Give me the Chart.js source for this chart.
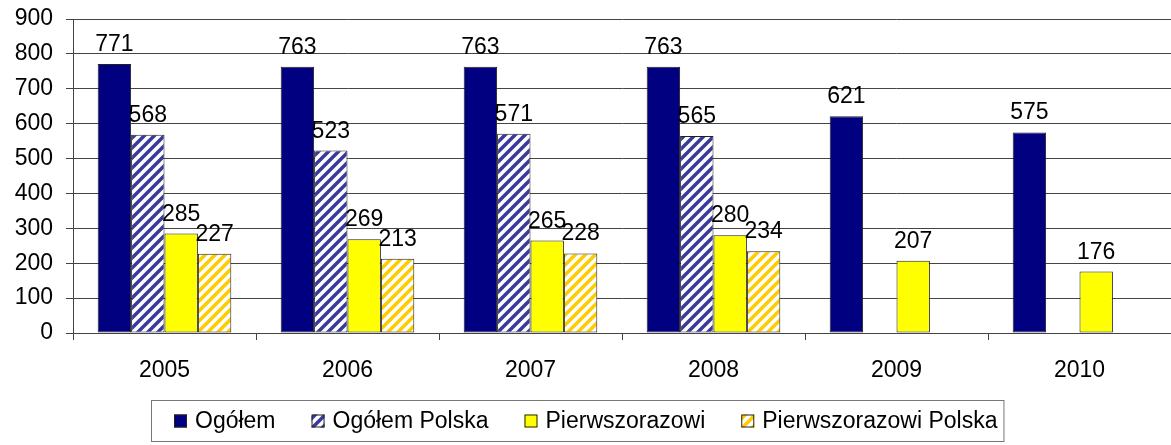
<!DOCTYPE html>
<html>
<head>
<meta charset="utf-8">
<script src="https://cdn.jsdelivr.net/npm/chart.js@4"></script>
<style>
    body { margin: 0; background: #fff; }
    #wrap { width: 1171px; height: 445px; }
</style>
</head>
<body>
<div id="wrap"><canvas id="chart"></canvas></div>
<script>
const years = ["2005", "2006", "2007", "2008", "2009", "2010"];
const ogolem = [771, 763, 763, 763, 621, 575];
const ogolemPolska = [568, 523, 571, 565, null, null];
const pierwszorazowi = [285, 269, 265, 280, 207, 176];
const pierwszorazowiPolska = [227, 213, 228, 234, null, null];
const yTicks = [0, 100, 200, 300, 400, 500, 600, 700, 800, 900];

const FONT = "'Liberation Sans', Arial, sans-serif";

function hatch(color) {
    const c = document.createElement("canvas");
    c.width = 10;
    c.height = 10;
    const g = c.getContext("2d");
    g.fillStyle = "#fff";
    g.fillRect(0, 0, 10, 10);
    g.strokeStyle = color;
    g.lineWidth = 3.5;
    g.beginPath();
    g.moveTo(-5, 5); g.lineTo(5, -5);
    g.moveTo(0, 10); g.lineTo(10, 0);
    g.moveTo(5, 15); g.lineTo(15, 5);
    g.stroke();
    return g.createPattern(c, "repeat");
}

const ctx = document.getElementById("chart").getContext("2d");
const bluePattern = hatch("#3a3a9c");
const yellowPattern = hatch("#ffcc00");

// value labels above bars
const valueLabels = {
    id: "valueLabels",
    afterDatasetsDraw(chart) {
        const c = chart.ctx;
        c.save();
        c.font = "23px " + FONT;
        c.fillStyle = "#000";
        c.textAlign = "center";
        c.textBaseline = "alphabetic";
        chart.data.datasets.forEach((ds, i) => {
            chart.getDatasetMeta(i).data.forEach((bar, j) => {
                if (ds.data[j] == null) return;
                c.fillText(ds.data[j], bar.x, bar.y - 13);
            });
        });
        c.restore();
    }
};

// legend in a frame, drawn by hand so the gaps match
const boxLegend = {
    id: "boxLegend",
    afterDraw(chart) {
        const c = chart.ctx;
        const sets = chart.data.datasets;
        const gap = 36, box = 13, textOff = 21;
        c.save();
        c.font = "23px " + FONT;
        const widths = sets.map(ds => c.measureText(ds.label).width);
        let total = 0;
        widths.forEach((w, i) => { total += textOff + w + (i < sets.length - 1 ? gap : 0); });
        let x = Math.round(chart.width / 2 - total / 2);
        const cy = 421;

        c.strokeStyle = "#777";
        c.lineWidth = 1;
        c.strokeRect(x - 23 + 0.5, 400.5, total + 29, 41);

        c.textBaseline = "middle";
        c.fillStyle = "#000";
        sets.forEach((ds, i) => {
            c.fillStyle = ds.backgroundColor;
            c.fillRect(x, cy - box / 2, box, box);
            c.strokeStyle = "#222";
            c.strokeRect(x + 0.5, cy - box / 2 + 0.5, box - 1, box - 1);
            c.fillStyle = "#000";
            c.fillText(ds.label, x + textOff, cy + 1);
            x += textOff + widths[i] + gap;
        });
        c.restore();
    }
};

new Chart(ctx, {
    type: "bar",
    data: {
        labels: years,
        datasets: [
            { label: "Ogółem", data: ogolem, backgroundColor: "#000080" },
            { label: "Ogółem Polska", data: ogolemPolska, backgroundColor: bluePattern },
            { label: "Pierwszorazowi", data: pierwszorazowi, backgroundColor: "#ffff00" },
            { label: "Pierwszorazowi Polska", data: pierwszorazowiPolska, backgroundColor: yellowPattern }
        ]
    },
    options: {
        responsive: true,
        maintainAspectRatio: false,
        animation: false,
        layout: { padding: { top: 19, right: 0, bottom: 44, left: 0 } },
        datasets: {
            bar: {
                categoryPercentage: 0.73,
                barPercentage: 1,
                borderColor: "#222",
                borderWidth: 1,
                borderSkipped: false
            }
        },
        plugins: {
            legend: { display: false },
            tooltip: { enabled: false }
        },
        scales: {
            x: {
                grid: {
                    drawOnChartArea: false,
                    drawTicks: true,
                    tickLength: 7,
                    color: "#444",
                    offset: true
                },
                border: { color: "#444" },
                ticks: {
                    font: { family: FONT, size: 23 },
                    color: "#000",
                    padding: 17,
                    maxRotation: 0
                },
                afterFit(scale) {
                    scale.height = 68;
                    scale.paddingLeft = 0;
                    scale.paddingRight = 0;
                }
            },
            y: {
                min: 0,
                max: 900,
                afterBuildTicks(scale) {
                    scale.ticks = yTicks.map(v => ({ value: v }));
                },
                grid: { color: "#444", tickLength: 7 },
                border: { color: "#444" },
                ticks: {
                    font: { family: FONT, size: 23 },
                    color: "#000",
                    padding: 13
                },
                afterFit(scale) {
                    scale.width = 73;
                    scale.paddingTop = 0;
                    scale.paddingBottom = 0;
                }
            }
        }
    },
    plugins: [valueLabels, boxLegend]
});
</script>
</body>
</html>
